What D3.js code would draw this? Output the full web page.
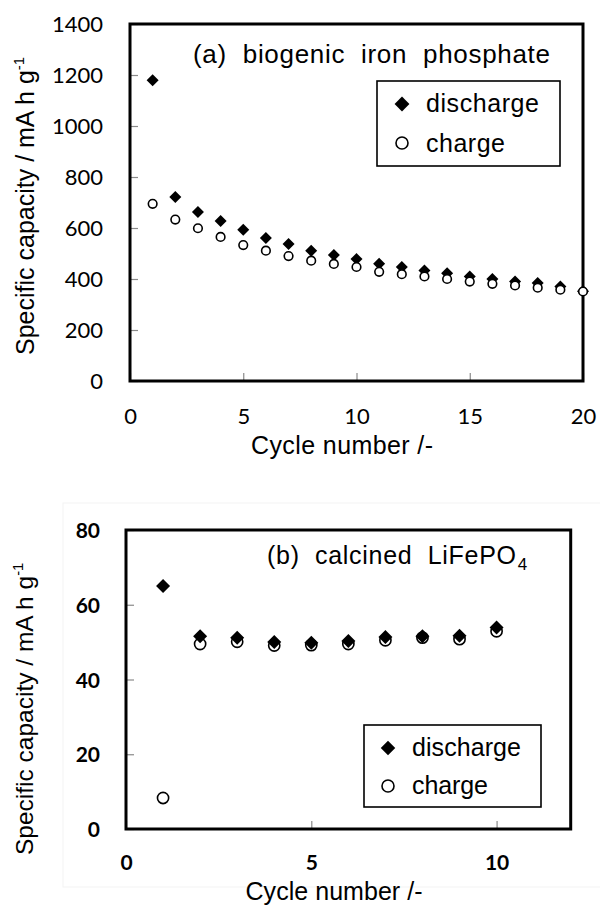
<!DOCTYPE html>
<html><head><meta charset="utf-8">
<script src="https://cdn.jsdelivr.net/npm/d3@7"></script>
<style>
html,body{margin:0;padding:0;background:#fff;}
text{font-family:"Liberation Sans",Arial,sans-serif;fill:#000;}
.tick text{font-family:Lato,"Open Sans",sans-serif;}
.pre{white-space:pre;}
</style></head><body>
<svg id="c" width="600" height="909"></svg>
<script>
// ---- data ----
const topCycles = [1,2,3,4,5,6,7,8,9,10,11,12,13,14,15,16,17,18,19,20];
const topDischarge = [1179,722,663,627,593,561,537,511,494,478,460,447,433,423,410,400,390,384,371,352];
const topCharge = [695,633,599,565,533,511,490,472,459,447,428,419,410,400,390,381,375,366,358,351];
const topXTicks = [0,5,10,15,20];
const topYTicks = [0,200,400,600,800,1000,1200,1400];

const botCycles = [1,2,3,4,5,6,7,8,9,10];
const botDischarge = [65.0,51.6,51.2,50.0,49.8,50.3,51.4,51.6,51.7,53.9];
const botCharge = [8.3,49.5,50.1,49.1,49.2,49.5,50.5,51.2,50.8,52.9];
const botXTicks = [0,5,10];
const botYTicks = [0,20,40,60,80];

const seriesNames = ["discharge","charge"];
const xTitle = "Cycle number /-";
const yTitle = "Specific capacity / mA h g";

const svg = d3.select("#c");

function diamond(size){ return d3.symbol(d3.symbolSquare, size)(); }

function panel(o){
  const g = svg.append("g");
  const x = d3.scaleLinear().domain(o.xDomain).range(o.xRange);
  const y = d3.scaleLinear().domain(o.yDomain).range(o.yRange);
  const x0=o.xRange[0], x1=o.xRange[1], y0=o.yRange[0], y1=o.yRange[1];

  // ticks (inward)
  const ax = g.append("g").attr("transform",`translate(0,${y0})`)
    .call(d3.axisBottom(x).tickValues(o.xTicks).tickSizeInner(-8).tickSizeOuter(0).tickPadding(0).tickFormat(d3.format("d")));
  const ay = g.append("g").attr("transform",`translate(${x0},0)`)
    .call(d3.axisLeft(y).tickValues(o.yTicks).tickSizeInner(-8).tickSizeOuter(0).tickPadding(o.yPad).tickFormat(d3.format("d")));
  [ax,ay].forEach(a=>{
    a.select(".domain").remove();
    a.selectAll(".tick line").attr("stroke","#8a8a8a").attr("stroke-width",1.2);
    a.selectAll(".tick text").attr("font-size",o.tickSize).attr("font-weight",o.tickWeight).attr("fill","#000");
  });
  ax.selectAll(".tick text").attr("y",o.xLabOff).attr("dy","0.36em");
  ay.selectAll(".tick text").attr("dy","0.36em");

  // frame
  g.append("rect").attr("x",x0).attr("y",y1).attr("width",x1-x0).attr("height",y0-y1)
    .attr("fill","none").attr("stroke","#000").attr("stroke-width",3);

  const cg = g.append("g");
  const dg = g.append("g");
  cg.selectAll("circle").data(o.cycles).join("circle")
    .attr("cx",(d)=>x(d)).attr("cy",(d,i)=>y(o.charge[i])).attr("r",o.r)
    .attr("fill","#fff").attr("stroke","#000").attr("stroke-width",1.6);
  dg.selectAll("path").data(o.cycles).join("path")
    .attr("d",diamond(o.dSize))
    .attr("transform",(d,i)=>`translate(${x(d)},${y(o.discharge[i])}) rotate(45)`)
    .attr("fill","#000");
  if(o.circlesOnTop) cg.raise();

  // title
  const t = g.append("text").attr("class","pre").attr("x",o.title.x).attr("y",o.title.y).attr("font-size",o.title.size);
  t.append("tspan").text(o.title.text).attr("textLength",o.title.len).attr("lengthAdjust","spacing");
  if(o.title.sub){ t.append("tspan").text(o.title.sub).attr("font-size",o.title.size*0.68).attr("dy",6).attr("dx",1); }

  // legend
  const L = o.legend;
  g.append("rect").attr("x",L.x).attr("y",L.y).attr("width",L.w).attr("height",L.h)
    .attr("fill","#fff").attr("stroke","#000").attr("stroke-width",1.6);
  g.append("path").attr("d",diamond(L.dSize)).attr("transform",`translate(${L.mx},${L.my1}) rotate(45)`).attr("fill","#000");
  g.append("circle").attr("cx",L.mx).attr("cy",L.my2).attr("r",L.r).attr("fill","#fff").attr("stroke","#000").attr("stroke-width",1.6);
  g.append("text").attr("x",L.tx).attr("y",L.ty1).attr("font-size",L.size).attr("textLength",L.len1).attr("lengthAdjust","spacing").text(seriesNames[0]);
  g.append("text").attr("x",L.tx).attr("y",L.ty2).attr("font-size",L.size).attr("textLength",L.len2).attr("lengthAdjust","spacing").text(seriesNames[1]);

  // axis titles
  g.append("text").attr("x",o.xt.x).attr("y",o.xt.y).attr("text-anchor","middle").attr("font-size",o.xt.size)
    .attr("textLength",o.xt.len).attr("lengthAdjust","spacing").text(xTitle);
  const yt = g.append("text").attr("transform",`translate(${o.yt.x},${o.yt.y}) rotate(-90)`).attr("font-size",o.yt.size);
  yt.append("tspan").text(yTitle);
  yt.append("tspan").text("-1").attr("font-size",o.yt.size*0.6).attr("dy",-o.yt.size*0.4);
}

// faint background frame of lower chart
svg.append("rect").attr("x",63).attr("y",503).attr("width",560).attr("height",384)
  .attr("fill","none").attr("stroke","#f3f3f3").attr("stroke-width",1);

panel({
  cycles: topCycles, discharge: topDischarge, charge: topCharge,
  xDomain:[0,20], xRange:[130,583], yDomain:[0,1400], yRange:[381,24],
  xTicks: topXTicks, yTicks: topYTicks, yPad:27, xLabOff:35, tickSize:22, tickWeight:400,
  r:4.3, dSize:72, circlesOnTop:true,
  title:{x:193,y:63,size:26,text:"(a)  biogenic  iron  phosphate",len:357},
  legend:{x:377,y:81,w:183,h:85,mx:402,my1:104,my2:143,r:6,dSize:110,tx:426,ty1:112,ty2:152,size:25,len1:113,len2:79},
  xt:{x:342,y:454,size:25,len:182},
  yt:{x:34,y:355,size:25}
});

panel({
  cycles: botCycles, discharge: botDischarge, charge: botCharge,
  xDomain:[0,12], xRange:[126,570.7], yDomain:[0,80], yRange:[829,530],
  xTicks: botXTicks, yTicks: botYTicks, yPad:26, xLabOff:33, tickSize:21, tickWeight:700,
  r:5.6, dSize:98, circlesOnTop:false,
  title:{x:267,y:564,size:25,text:"(b)  calcined  LiFePO",len:249,sub:"4"},
  legend:{x:364,y:725,w:177,h:82,mx:388,my1:748,my2:786,r:6,dSize:105,tx:412,ty1:756,ty2:794,size:25,len1:109,len2:76},
  xt:{x:334,y:900,size:25,len:177},
  yt:{x:33,y:855,size:24.5}
});
</script>
</body></html>
